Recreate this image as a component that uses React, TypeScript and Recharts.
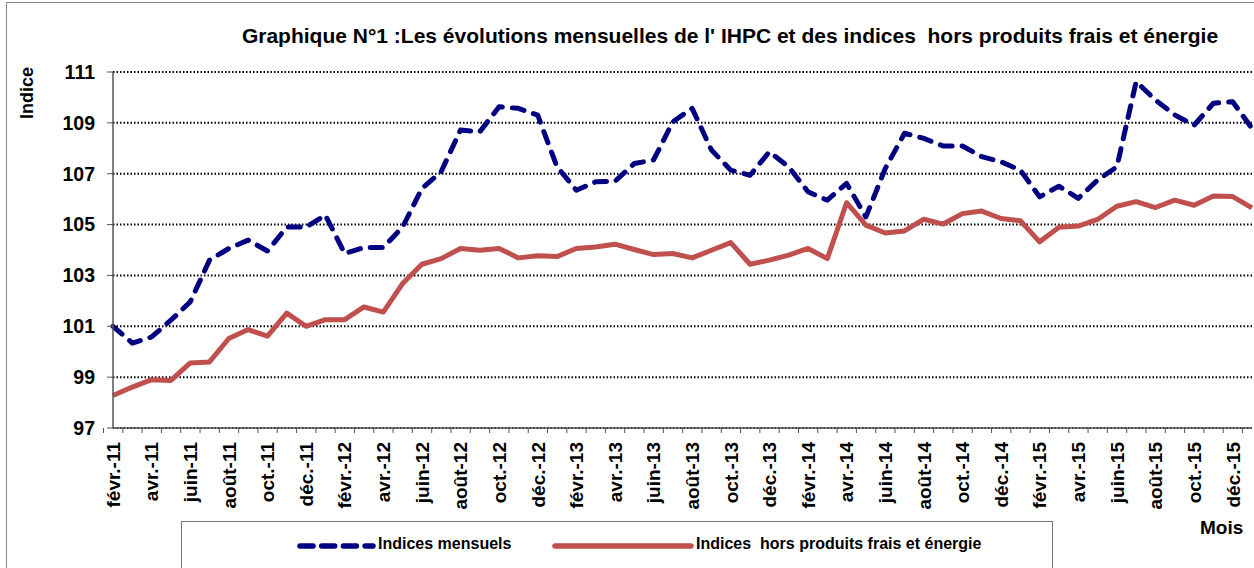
import { CartesianGrid, Line, LineChart, XAxis, YAxis } from "recharts";

const months = [
  "févr.-11", "mars-11", "avr.-11", "mai-11", "juin-11", "juil.-11", "août-11", "sept.-11", "oct.-11", "nov.-11", "déc.-11",
  "janv.-12", "févr.-12", "mars-12", "avr.-12", "mai-12", "juin-12", "juil.-12", "août-12", "sept.-12", "oct.-12", "nov.-12", "déc.-12",
  "janv.-13", "févr.-13", "mars-13", "avr.-13", "mai-13", "juin-13", "juil.-13", "août-13", "sept.-13", "oct.-13", "nov.-13", "déc.-13",
  "janv.-14", "févr.-14", "mars-14", "avr.-14", "mai-14", "juin-14", "juil.-14", "août-14", "sept.-14", "oct.-14", "nov.-14", "déc.-14",
  "janv.-15", "févr.-15", "mars-15", "avr.-15", "mai-15", "juin-15", "juil.-15", "août-15", "sept.-15", "oct.-15", "nov.-15", "déc.-15",
  "janv.-16",
];

const mensuels = [
  101.0, 100.34, 100.58, 101.24, 101.96, 103.6, 104.06, 104.39, 103.96, 104.9,
  104.9, 105.37, 103.86, 104.1, 104.1, 104.9, 106.42, 107.08, 108.72, 108.65,
  109.63, 109.57, 109.3, 107.27, 106.35, 106.68, 106.7, 107.4, 107.54, 109.04,
  109.57, 107.93, 107.14, 106.94, 107.86, 107.27, 106.29, 105.96, 106.62, 105.3,
  107.2, 108.59, 108.39, 108.09, 108.09, 107.67, 107.47, 107.14, 106.09, 106.51,
  106.03, 106.75, 107.27, 110.62, 109.9, 109.31, 108.91, 109.77, 109.83, 108.78,
];

const horsFraisEnergie = [
  98.28, 98.61, 98.9, 98.87, 99.56, 99.6, 100.52, 100.87, 100.61, 101.52,
  101.0, 101.26, 101.26, 101.76, 101.56, 102.68, 103.44, 103.66, 104.06, 103.99,
  104.06, 103.69, 103.77, 103.74, 104.06, 104.12, 104.23, 104.02, 103.82, 103.86,
  103.69, 103.99, 104.29, 103.44, 103.6, 103.8, 104.06, 103.66, 105.86, 104.98,
  104.67, 104.75, 105.21, 105.02, 105.43, 105.53, 105.24, 105.15, 104.32, 104.89,
  104.94, 105.2, 105.72, 105.9, 105.67, 105.96, 105.76, 106.12, 106.1, 105.66,
];

const yTicks = [97, 99, 101, 103, 105, 107, 109, 111];

const data = months.map((m, i) => ({
  month: m,
  mensuel: mensuels[i],
  hors: horsFraisEnergie[i],
}));

const FONT = "'Liberation Sans', Arial, sans-serif";
const BLUE = "#000080";
const RED = "#C0504D";
const STEP = (1252 - 113) / months.length;

// tick mark between months, label on every second month
function MonthTick(props: any) {
  const { x, y, payload, index } = props;
  const i = index ?? payload?.index ?? 0;
  const left = x - STEP / 2;
  return (
    <g>
      <line x1={left} y1={y - 14} x2={left} y2={y - 9} stroke="#555" />
      {i === months.length - 1 && (
        <line x1={x + STEP / 2} y1={y - 14} x2={x + STEP / 2} y2={y - 9} stroke="#555" />
      )}
      {i % 2 === 0 && (
        <text
          x={x}
          y={y}
          transform={`rotate(-90, ${x}, ${y})`}
          textAnchor="end"
          dy="0.36em"
          fontSize={19}
          fontWeight="bold"
          fontFamily={FONT}
          fill="#000"
        >
          {payload.value}
        </text>
      )}
    </g>
  );
}

export default function App() {
  return (
    <div style={{ position: "relative", width: 1254, height: 568, fontFamily: FONT, overflow: "hidden" }}>
      <style>{"body{margin:0}"}</style>
      <div style={{ position: "absolute", left: 6, top: 2, width: 1247, height: 600, border: "1px solid #888" }} />
      <div
        style={{
          position: "absolute", left: 0, width: 1460, top: 24, textAlign: "center",
          fontSize: 21, fontWeight: "bold", whiteSpace: "pre",
        }}
      >
        {"Graphique N°1 :Les évolutions mensuelles de l' IHPC et des indices  hors produits frais et énergie"}
      </div>
      <div
        style={{
          position: "absolute", left: 27, top: 93, transform: "translate(-50%, -50%) rotate(-90deg)",
          fontSize: 18, fontWeight: "bold",
        }}
      >
        Indice
      </div>
      <div style={{ position: "absolute", left: 1200, top: 517, fontSize: 19, fontWeight: "bold" }}>Mois</div>

      <LineChart
        width={1254}
        height={568}
        data={data}
        margin={{ top: 72, right: 2, bottom: 60, left: 0 }}
        style={{ position: "absolute", left: 0, top: 0 }}
      >
        <CartesianGrid vertical={false} stroke="#000" strokeDasharray="1.5 2" strokeWidth={2} />
        <XAxis
          dataKey="month"
          interval={0}
          height={80}
          tickSize={5}
          tickMargin={9}
          tickLine={false}
          axisLine={{ stroke: "#555", strokeWidth: 1.5 }}
          tick={<MonthTick />}
        />
        <XAxis
          xAxisId="top"
          orientation="top"
          dataKey="month"
          height={0}
          tick={false}
          tickLine={false}
          axisLine={{ stroke: "#a6a6a6", strokeWidth: 1.5 }}
        />
        <YAxis
          domain={[97, 111]}
          ticks={yTicks}
          width={113}
          tickSize={6}
          tickMargin={12}
          tickLine={{ stroke: "#555" }}
          axisLine={{ stroke: "#555", strokeWidth: 1.5 }}
          tick={{ fontSize: 19.5, fontWeight: "bold", fill: "#000", fontFamily: FONT }}
        />
        <YAxis
          yAxisId="right"
          orientation="right"
          domain={[97, 111]}
          width={0}
          tick={false}
          tickLine={false}
          axisLine={{ stroke: "#a6a6a6", strokeWidth: 1.5 }}
        />
        <Line
          type="linear"
          dataKey="hors"
          stroke={RED}
          strokeWidth={5}
          strokeLinejoin="round"
          dot={false}
          isAnimationActive={false}
        />
        <Line
          type="linear"
          dataKey="mensuel"
          stroke={BLUE}
          strokeWidth={5}
          strokeDasharray="12 10"
          strokeLinecap="round"
          strokeLinejoin="round"
          dot={false}
          isAnimationActive={false}
        />
      </LineChart>

      <div
        style={{
          position: "absolute", left: 181, top: 521, width: 870, height: 46,
          border: "1px solid #777", background: "#fff",
        }}
      >
        <svg width={80} height={10} style={{ position: "absolute", left: 115, top: 19 }}>
          <line x1={3} y1={5} x2={76} y2={5} stroke={BLUE} strokeWidth={5.5} strokeDasharray="13 8.7" strokeLinecap="round" />
        </svg>
        <div style={{ position: "absolute", left: 196, top: 13, fontSize: 16, fontWeight: "bold" }}>Indices mensuels</div>
        <svg width={142} height={10} style={{ position: "absolute", left: 370, top: 19 }}>
          <line x1={3} y1={5} x2={139} y2={5} stroke={RED} strokeWidth={5.5} strokeLinecap="round" />
        </svg>
        <div style={{ position: "absolute", left: 514, top: 13, fontSize: 16, fontWeight: "bold", whiteSpace: "pre" }}>
          {"Indices  hors produits frais et énergie"}
        </div>
      </div>
    </div>
  );
}
